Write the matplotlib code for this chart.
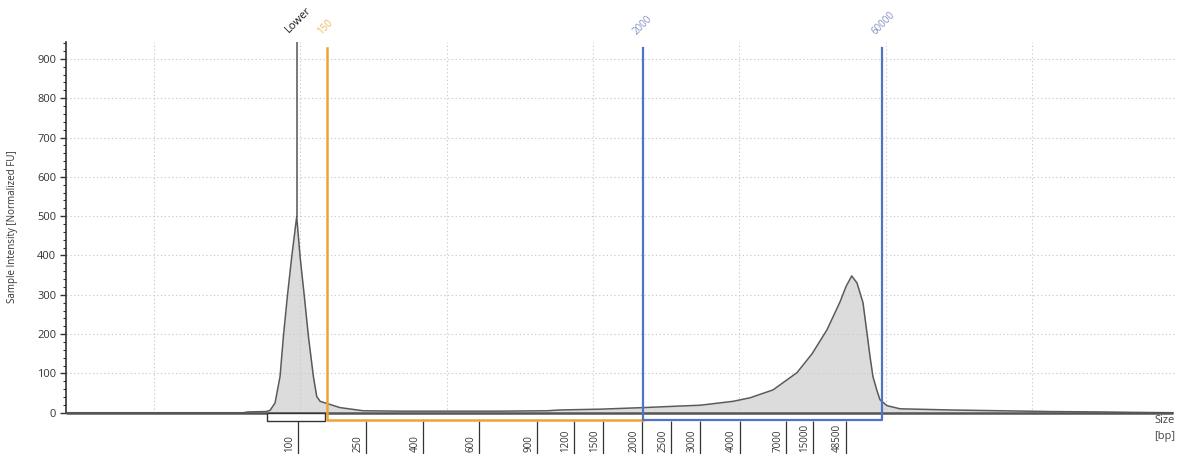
import numpy as np
import matplotlib.pyplot as plt
from matplotlib.ticker import FixedLocator

plt.rcParams['font.family'] = ['Open Sans', 'DejaVu Sans']

# electropherogram trace: run position vs normalized intensity
pos = [0.398, 1.608, 1.643, 1.766, 1.793, 1.827, 1.861, 1.884, 1.911, 1.941,
       1.975, 1.998, 2.027, 2.055, 2.089, 2.112, 2.135, 2.169, 2.271, 2.429,
       2.681, 3.365, 3.686, 3.775, 4.049, 4.342, 4.595, 4.732, 4.958, 5.074,
       5.231, 5.395, 5.498, 5.600, 5.689, 5.730, 5.769, 5.805, 5.846, 5.873,
       5.894, 5.914, 5.940, 5.962, 6.010, 6.099, 6.441, 6.783, 7.124, 7.466,
       7.671, 7.965]
fu = [0, 0, 2, 3, 6, 25, 92, 194, 296, 397,
      499, 397, 296, 194, 92, 41, 29, 25, 13, 5,
      4, 4, 5, 7, 9, 13, 17, 19, 29, 38,
      58, 102, 150, 211, 282, 321, 348, 330, 280, 203,
      143, 92, 58, 33, 18, 10, 7, 5, 3, 2,
      1, 0]

# ladder sizes and where they fall on the run
ladder_bp = ['100', '250', '400', '600', '900', '1200', '1500', '2000',
             '2500', '3000', '4000', '7000', '15000', '48500']
ladder_pos = [1.984, 2.449, 2.839, 3.221, 3.618, 3.871, 4.069, 4.336,
              4.534, 4.732, 5.005, 5.320, 5.504, 5.730]

# marker and region boundaries
lower_pos = 1.975
lower_peak = 499
lower_box = (1.772, 2.169)
region_pos = [2.183, 4.342, 5.976]
region_lbl = ['150', '2000', '60000']

xmin, xmax = 0.398, 7.986
ymin, ymax = -105, 943

fig = plt.figure(figsize=(11.79, 4.54), dpi=100)
ax = fig.add_axes([0.056, 0.0, 0.9415, 0.9075])
ax.set_xlim(xmin, xmax)
ax.set_ylim(ymin, ymax)

for s in ['top', 'right', 'bottom']:
    ax.spines[s].set_visible(False)
ax.spines['left'].set_bounds(0, ymax)
ax.spines['left'].set_color('#333333')
ax.spines['left'].set_linewidth(1.2)

ax.set_xticks([])
ax.set_yticks(np.arange(0, 1000, 100))
ax.yaxis.set_minor_locator(FixedLocator(np.arange(20, 941, 20)))
ax.tick_params(axis='y', which='major', length=4, width=1, labelsize=8,
               colors='#333333', pad=3)
ax.tick_params(axis='y', which='minor', length=2, width=0.8, colors='#333333')
ax.set_ylabel('Sample Intensity [Normalized FU]', fontsize=7, color='#333333')
ax.yaxis.set_label_coords(-0.043, 0.552)

# dotted grid
grid_kw = dict(color='#cccccc', lw=0.8, linestyle=(0, (1.2, 2.2)), zorder=2)
for y in range(100, 1000, 100):
    ax.hlines(y, xmin, xmax, **grid_kw)
for x in range(1, 9):
    ax.vlines(x, 0, ymax, **grid_kw)

# trace
ax.fill_between(pos, fu, 0, color='#dcdcdc', lw=0, zorder=1)
ax.plot(pos, fu, color='#5a5a5a', lw=1.1, zorder=3)
ax.hlines(0, xmin, pos[-1], color='#555555', lw=1.8, zorder=4)

# lower marker
ax.vlines(lower_pos, lower_peak, ymax, color='#555555', lw=1.1, zorder=5)
ax.add_patch(plt.Rectangle((lower_box[0], -20), lower_box[1] - lower_box[0], 20,
                           fc='white', ec='#333333', lw=1.0, zorder=5,
                           clip_on=False))
ax.annotate('Lower', xy=(lower_pos, ymax), xytext=(-4, 5),
            textcoords='offset points', rotation=45, rotation_mode='anchor',
            ha='left', va='bottom', fontsize=8, color='#1a1a1a',
            annotation_clip=False)

# size regions
orange = '#eea23a'
blue = '#4f74c6'
ax.plot([region_pos[0], region_pos[0], region_pos[1]], [928, -18, -18],
        color=orange, lw=1.8, zorder=6, clip_on=False)
ax.plot([region_pos[1], region_pos[1], region_pos[2], region_pos[2]],
        [928, -18, -18, 928], color=blue, lw=1.6, zorder=7, clip_on=False)
lbl_colors = ['#f0b860', '#8391c2', '#8391c2']
for p, t, c in zip(region_pos, region_lbl, lbl_colors):
    ax.annotate(t, xy=(p, 928), xytext=(-3, 8), textcoords='offset points',
                rotation=45, rotation_mode='anchor', ha='left', va='bottom',
                fontsize=7, color=c, annotation_clip=False)

# ladder axis below the baseline
ax.vlines(ladder_pos, ymin, -20, color='#333333', lw=0.9, clip_on=False)
for p, t in zip(ladder_pos, ladder_bp):
    ax.annotate(t, xy=(p, -100), xytext=(-6, 0), textcoords='offset points',
                rotation=90, ha='center', va='bottom', fontsize=7,
                color='#333333', annotation_clip=False)

ax.text(xmax - 0.08, -40, 'Size\n[bp]', ha='center', va='center',
        fontsize=8, color='#444444', linespacing=1.6)

fig.savefig('out.png', dpi=100)
